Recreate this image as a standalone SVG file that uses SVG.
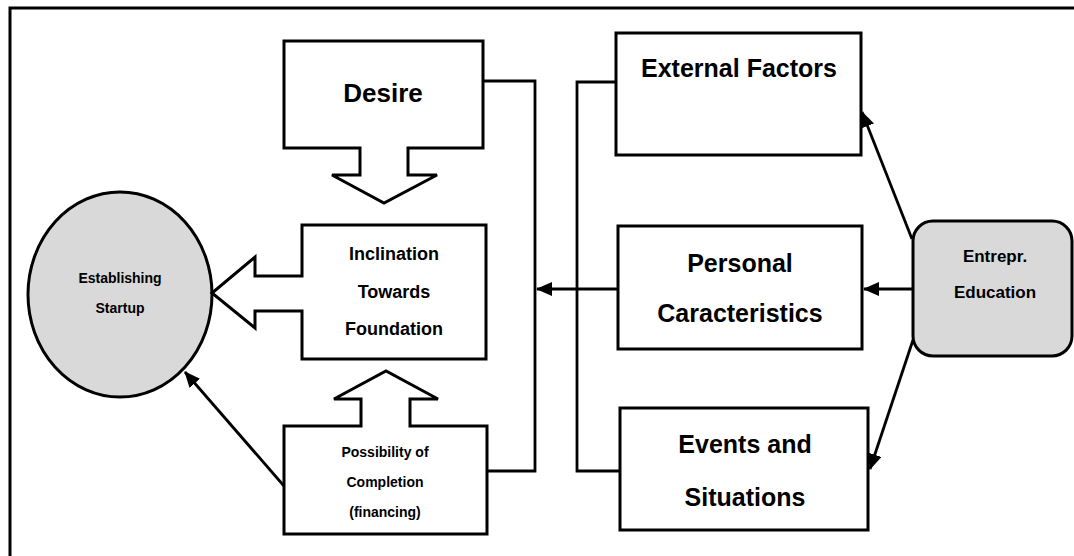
<svg xmlns="http://www.w3.org/2000/svg" width="1074" height="556" viewBox="0 0 1074 556">
<style>
.shape{fill:#fff;stroke:#000;stroke-width:3;stroke-linejoin:miter}
.grey{fill:#d9d9d9;stroke:#000;stroke-width:3}
.conn{fill:none;stroke:#000;stroke-width:2.8}
text{font-family:"Liberation Sans",Arial,sans-serif;font-weight:bold;fill:#000;text-anchor:middle}
.big{font-size:25px}
.mid{font-size:18px}
.sm{font-size:14px}
</style>
<defs>
<marker id="ah" markerUnits="userSpaceOnUse" markerWidth="16" markerHeight="14" refX="15" refY="7" orient="auto">
<path d="M0,0 L16,7 L0,14 Z" fill="#000"/>
</marker>
</defs>
<rect x="10" y="8" width="1080" height="570" fill="none" stroke="#000" stroke-width="3"/>
<g id="connectors">
<polyline class="conn" points="483,81 535,81 535,471 487,471"/>
<polyline class="conn" points="616,82 577,82 577,471 620,471"/>
<line class="conn" x1="618" y1="289" x2="537" y2="289" marker-end="url(#ah)"/>
<line class="conn" x1="913" y1="289" x2="864" y2="289" marker-end="url(#ah)"/>
<line class="conn" x1="912" y1="239" x2="862" y2="112" marker-end="url(#ah)"/>
<line class="conn" x1="913" y1="340" x2="870" y2="469" marker-end="url(#ah)"/>
<line class="conn" x1="284" y1="486" x2="185" y2="372" marker-end="url(#ah)"/>
</g>
<g id="establishing">
<ellipse class="grey" cx="120" cy="294.5" rx="92" ry="102.5"/>
<text class="sm" x="120" y="283">Establishing</text>
<text class="sm" x="120" y="313">Startup</text>
</g>
<g id="desire">
<path class="shape" d="M284,41 H483 V148 H408 V175 H437 L384,203 L332,175 H360 V148 H284 Z"/>
<text class="big" x="383" y="102" style="font-size:26px">Desire</text>
</g>
<g id="inclination">
<path class="shape" d="M302,225 H486 V359 H302 V311 H255 V328 L212,293 L255,257 V276 H302 Z"/>
<text class="mid" x="394" y="260">Inclination</text>
<text class="mid" x="394" y="298">Towards</text>
<text class="mid" x="394" y="335">Foundation</text>
</g>
<g id="possibility">
<path class="shape" d="M284,426 H361 V399 H334 L386,371 L438,399 H410 V426 H487 V534 H284 Z"/>
<text class="sm" x="385" y="457">Possibility of</text>
<text class="sm" x="385" y="487">Completion</text>
<text class="sm" x="385" y="517">(financing)</text>
</g>
<g id="external">
<rect class="shape" x="616" y="33" width="245" height="122"/>
<text class="big" x="739" y="77">External Factors</text>
</g>
<g id="personal">
<rect class="shape" x="618" y="226" width="244" height="123"/>
<text class="big" x="740" y="272">Personal</text>
<text class="big" x="740" y="322">Caracteristics</text>
</g>
<g id="events">
<rect class="shape" x="620" y="408" width="248" height="122"/>
<text class="big" x="745" y="453">Events and</text>
<text class="big" x="745" y="506">Situations</text>
</g>
<g id="education">
<rect class="grey" x="913" y="221" width="159" height="135" rx="20" ry="20"/>
<text class="sm" x="995" y="262" style="font-size:17px">Entrepr.</text>
<text class="sm" x="995" y="298" style="font-size:17px">Education</text>
</g>
</svg>
